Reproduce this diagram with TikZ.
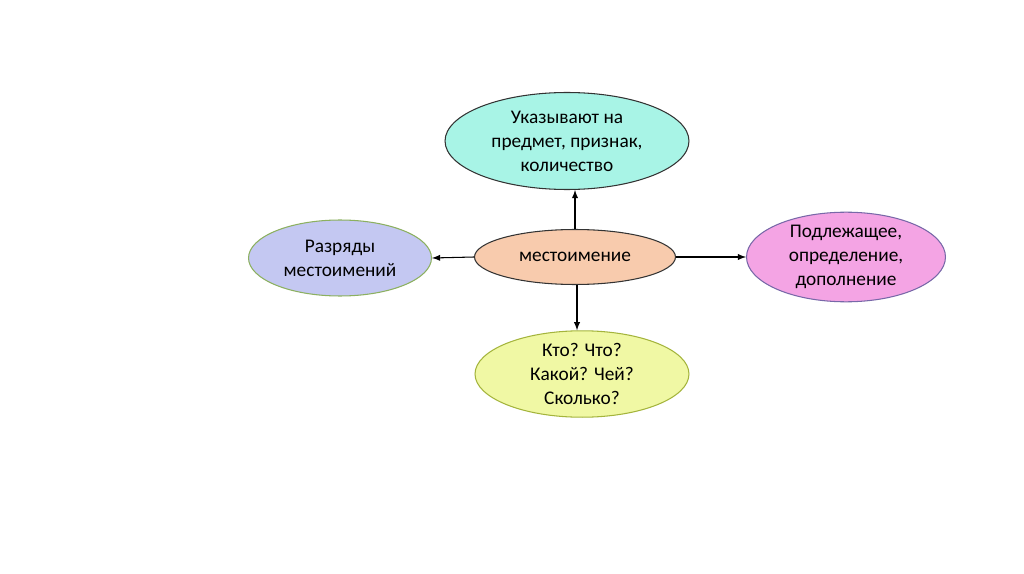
\documentclass[tikz,border=0pt]{standalone}
\usepackage{fontspec}
\setmainfont{Carlito}
\usepackage{tikz}
\usetikzlibrary{shapes.geometric}
\definecolor{topfill}{HTML}{A8F4E6}
\definecolor{midfill}{HTML}{F8CBAD}
\definecolor{leftfill}{HTML}{C4C8F2}
\definecolor{leftline}{HTML}{8CB060}
\definecolor{rightfill}{HTML}{F4A4E4}
\definecolor{rightline}{HTML}{7868A8}
\definecolor{lowfill}{HTML}{F0F8A4}
\definecolor{lowline}{HTML}{A4B43C}

\begin{document}
\begin{tikzpicture}[x=0.02cm,y=-0.02cm,
  blob/.style={ellipse,draw,line width=0.6pt,inner sep=0pt,align=center,
    font=\fontsize{11}{13.6}\selectfont},
  link/.style={->,>=latex,line width=0.6pt}]
\useasboundingbox (0,0) rectangle (1024,574);
\node[blob,fill=midfill,draw=black!80,minimum width=4.02cm,minimum height=1.1cm] (mid) at (575,257) {местоимение};
\node[blob,fill=topfill,draw=black!80,minimum width=4.88cm,minimum height=1.94cm] (what) at (567,141) {Указывают на\\предмет, признак,\\количество};
\node[blob,fill=leftfill,draw=leftline,minimum width=3.66cm,minimum height=1.52cm] (kinds) at (340,258) {Разряды\\местоимений};
\node[blob,fill=rightfill,draw=rightline,minimum width=3.98cm,minimum height=1.54cm] (role) at (846,257) {Подлежащее,\\определение,\\дополнение};
\node[blob,fill=lowfill,draw=lowline,minimum width=4.28cm,minimum height=1.58cm] (ask) at (582,374) {Кто? Что?\\Какой? Чей?\\Сколько?};
\draw[link] (mid.north) -- (mid.north |- what.south);
\draw[link] (mid.west) -- (kinds.east);
\draw[link] (mid.east) -- (role.west);
\draw[link] (577,285) -- (ask.north -| 577,0);
\end{tikzpicture}
\end{document}
